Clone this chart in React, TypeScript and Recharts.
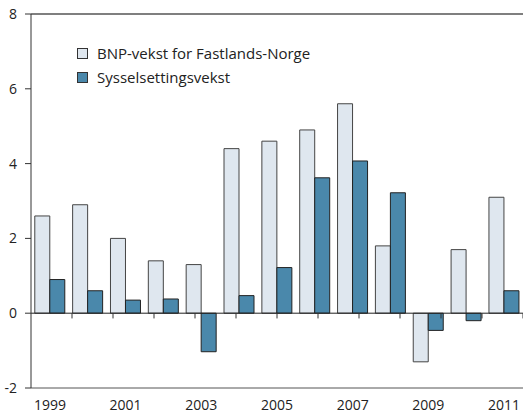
import { BarChart, Bar, XAxis, YAxis, ReferenceLine } from "recharts";

const years = ["1999", "2000", "2001", "2002", "2003", "2004", "2005", "2006", "2007", "2008", "2009", "2010", "2011"];
const bnpVekst = [2.6, 2.9, 2.0, 1.4, 1.3, 4.4, 4.6, 4.9, 5.6, 1.8, -1.3, 1.7, 3.1];
const sysselsetting = [0.9, 0.6, 0.35, 0.38, -1.03, 0.47, 1.22, 3.62, 4.07, 3.22, -0.46, -0.2, 0.6];
const yTicks = [-2, 0, 2, 4, 6, 8];

const data = years.map((year, i) => ({ year, bnp: bnpVekst[i], syss: sysselsetting[i] }));
// category boundaries, for the small ticks on the zero line
const boundaries = years.slice(1).map((_, i) => i + 1);

const FONT = "'Open Sans', sans-serif";
const BNP_FILL = "#dfe7ef";
const SYSS_FILL = "#4a88ab";

const legendItems = [
  { label: "BNP-vekst for Fastlands-Norge", fill: BNP_FILL },
  { label: "Sysselsettingsvekst", fill: SYSS_FILL },
];

function LegendBox() {
  return (
    <div style={{ position: "absolute", left: 77, top: 41, fontFamily: FONT, fontSize: 15, color: "#222" }}>
      {legendItems.map((it) => (
        <div key={it.label} style={{ display: "flex", alignItems: "center", height: 24 }}>
          <span
            style={{
              width: 9,
              height: 9,
              background: it.fill,
              border: "1px solid #333",
              marginRight: 9,
              display: "inline-block",
            }}
          />
          {it.label}
        </div>
      ))}
    </div>
  );
}

export default function App() {
  return (
    <div style={{ position: "absolute", left: 0, top: 0, width: 523, height: 413, background: "#fff" }}>
      <BarChart
        width={523}
        height={413}
        data={data}
        margin={{ top: 14, right: 0, bottom: 0, left: 0 }}
        barCategoryGap="10%"
        barGap={0}
      >
        <XAxis
          dataKey="year"
          interval={1}
          tickLine={false}
          axisLine={{ stroke: "#555", strokeWidth: 1 }}
          tick={{ fill: "#222", fontSize: 14, fontFamily: FONT }}
          tickMargin={6}
          height={25}
        />
        <XAxis xAxisId="num" type="number" domain={[0, years.length]} hide />
        <YAxis
          domain={[-2, 8]}
          ticks={yTicks}
          width={31}
          interval={0}
          tickSize={6}
          tickMargin={8}
          tickLine={{ stroke: "#333" }}
          axisLine={{ stroke: "#333", strokeWidth: 1 }}
          tick={{ fill: "#222", fontSize: 14, fontFamily: FONT }}
        />
        <ReferenceLine y={8} stroke="#555" strokeWidth={1.5} />
        <Bar dataKey="bnp" fill={BNP_FILL} stroke="#444" strokeWidth={1} isAnimationActive={false} />
        <Bar dataKey="syss" fill={SYSS_FILL} stroke="#222" strokeWidth={1} isAnimationActive={false} />
        <ReferenceLine y={0} stroke="#222" strokeWidth={1} />
        {boundaries.map((b) => (
          <ReferenceLine
            key={b}
            xAxisId="num"
            segment={[
              { x: b, y: 0 },
              { x: b, y: -0.14 },
            ]}
            stroke="#333"
            strokeWidth={1}
          />
        ))}
      </BarChart>
      <LegendBox />
    </div>
  );
}
